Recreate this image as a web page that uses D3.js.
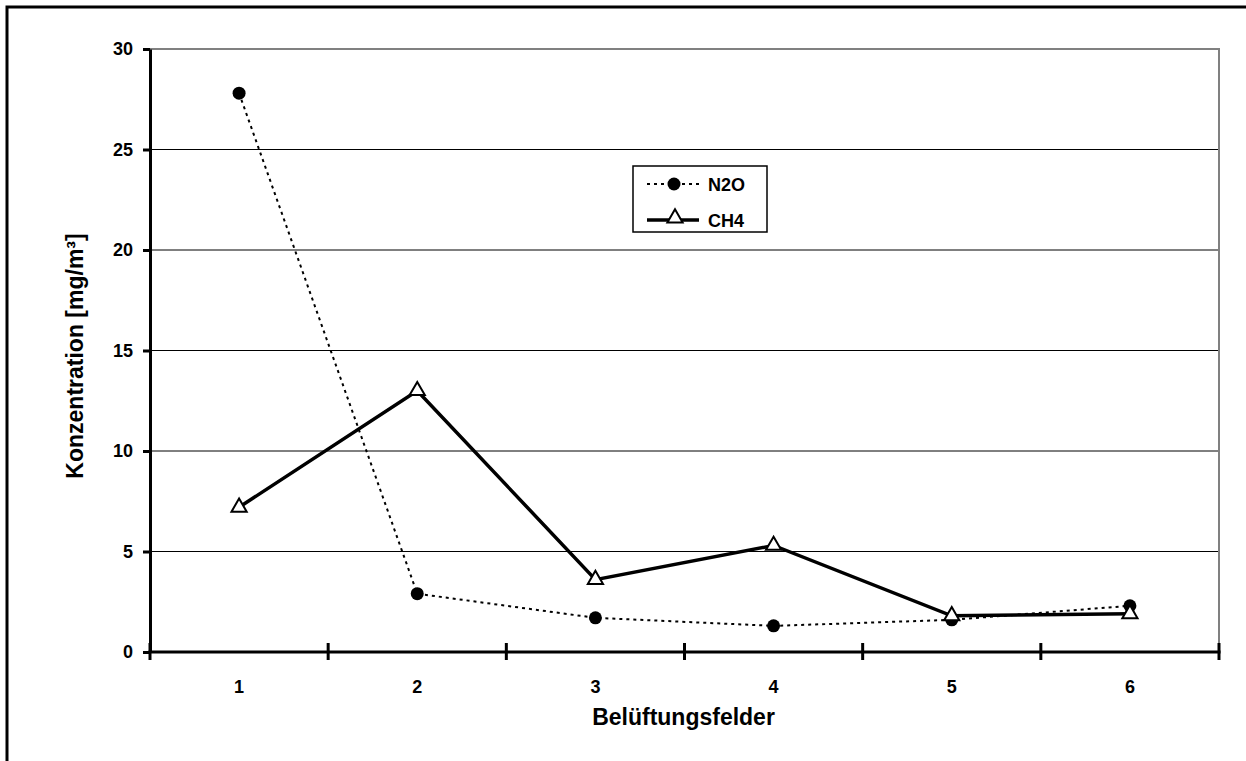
<!DOCTYPE html>
<html>
<head>
  <meta charset="utf-8">
  <title>Konzentration</title>
  <script src="https://d3js.org/d3.v7.min.js"></script>
  <style>
    body { margin: 0; background: #fff; }
    svg { font-family: "Liberation Sans", Arial, sans-serif; font-weight: bold; }
  </style>
</head>
<body>
  <svg class="chart" width="1246" height="761"></svg>
  <script>
    "use strict";

    var felder = [1, 2, 3, 4, 5, 6];
    var n2o = [27.8, 2.9, 1.7, 1.3, 1.6, 2.3];
    var ch4 = [7.2, 13.0, 3.6, 5.3, 1.8, 1.9];
    var yTicks = [0, 5, 10, 15, 20, 25, 30];
    var seriesNames = ["N2O", "CH4"];

    var margin = { top: 49, left: 150, right: 27, bottom: 109 };
    var svg = d3.select("svg.chart");
    var W = +svg.attr("width"), H = +svg.attr("height");

    var x = d3.scaleLinear()
      .domain([0.5, felder.length + 0.5])
      .range([margin.left, W - margin.right]);
    var y = d3.scaleLinear()
      .domain([0, 30])
      .range([H - margin.bottom, margin.top]);

    // outer chart border (runs off the right and bottom)
    svg.append("rect")
      .attr("x", 7).attr("y", 7)
      .attr("width", 1400).attr("height", 900)
      .attr("fill", "none").attr("stroke", "#000").attr("stroke-width", 3);

    // gridlines
    svg.append("g").selectAll("line")
      .data(yTicks.filter(function(d) { return d > 0 && d < 30; }))
      .enter().append("line")
      .attr("x1", x(0.5)).attr("x2", x(6.5))
      .attr("y1", function(d) { return y(d); })
      .attr("y2", function(d) { return y(d); })
      .attr("stroke", "#000").attr("stroke-width", 1);

    // plot area border (grey, top and right)
    svg.append("path")
      .attr("d", "M" + x(0.5) + "," + y(30) + "H" + x(6.5) + "V" + y(0))
      .attr("fill", "none").attr("stroke", "#808080").attr("stroke-width", 2);

    // y axis
    var yAxis = svg.append("g")
      .attr("transform", "translate(" + x(0.5) + ",0)")
      .call(d3.axisLeft(y).tickValues(yTicks).tickSize(7).tickSizeOuter(0).tickPadding(10));
    yAxis.select(".domain").attr("stroke", "#000").attr("stroke-width", 3);
    yAxis.selectAll(".tick line").attr("stroke", "#000").attr("stroke-width", 3);
    yAxis.selectAll(".tick text")
      .attr("fill", "#000")
      .style("font-size", "18px")
      .style("font-family", "'Liberation Sans', Arial, sans-serif")
      .style("font-weight", "bold");

    // x axis line and crossing ticks
    var xEdges = d3.range(0.5, felder.length + 1, 1);
    svg.append("line")
      .attr("x1", x(0.5) - 1.5).attr("x2", x(6.5) + 1.5)
      .attr("y1", y(0)).attr("y2", y(0))
      .attr("stroke", "#000").attr("stroke-width", 3);
    svg.append("g").selectAll("line")
      .data(xEdges)
      .enter().append("line")
      .attr("x1", function(d) { return x(d); })
      .attr("x2", function(d) { return x(d); })
      .attr("y1", y(0) - 9).attr("y2", y(0) + 8)
      .attr("stroke", "#000").attr("stroke-width", 3);
    svg.append("g").selectAll("text")
      .data(felder)
      .enter().append("text")
      .attr("x", function(d) { return x(d); })
      .attr("y", y(0) + 41)
      .attr("text-anchor", "middle")
      .style("font-size", "18px")
      .text(function(d) { return d; });

    // axis titles
    svg.append("text")
      .attr("x", (x(0.5) + x(6.5)) / 2 - 1)
      .attr("y", 725)
      .attr("text-anchor", "middle")
      .style("font-size", "23px")
      .text("Belüftungsfelder");
    svg.append("text")
      .attr("transform", "translate(83," + 356 + ") rotate(-90)")
      .attr("text-anchor", "middle")
      .style("font-size", "23px")
      .text("Konzentration [mg/m³]");

    var line = d3.line()
      .x(function(d, i) { return x(felder[i]); })
      .y(function(d) { return y(d); });

    var triangle = d3.symbol().type(d3.symbolTriangle).size(100);

    // N2O dotted with filled circles
    svg.append("path")
      .attr("d", line(n2o))
      .attr("fill", "none").attr("stroke", "#000")
      .attr("stroke-width", 2).attr("stroke-dasharray", "3,4");
    svg.append("g").selectAll("circle")
      .data(n2o)
      .enter().append("circle")
      .attr("cx", function(d, i) { return x(felder[i]); })
      .attr("cy", function(d) { return y(d); })
      .attr("r", 6.5)
      .attr("fill", "#000");

    // CH4 solid with open triangles
    svg.append("path")
      .attr("d", line(ch4))
      .attr("fill", "none").attr("stroke", "#000").attr("stroke-width", 3.5);
    svg.append("g").selectAll("path")
      .data(ch4)
      .enter().append("path")
      .attr("d", triangle)
      .attr("transform", function(d, i) {
        return "translate(" + x(felder[i]) + "," + y(d) + ")";
      })
      .attr("fill", "#fff").attr("stroke", "#000").attr("stroke-width", 2);

    // legend
    var lg = svg.append("g").attr("transform", "translate(633,166)");
    lg.append("rect")
      .attr("width", 134).attr("height", 66)
      .attr("fill", "#fff").attr("stroke", "#000").attr("stroke-width", 1.5);
    var rows = lg.selectAll("g.row")
      .data(seriesNames)
      .enter().append("g")
      .attr("class", "row")
      .attr("transform", function(d, i) { return "translate(0," + (18 + i * 36) + ")"; });
    rows.append("line")
      .attr("x1", 14).attr("x2", 66)
      .attr("stroke", "#000")
      .attr("stroke-width", function(d, i) { return i === 0 ? 2 : 3.5; })
      .attr("stroke-dasharray", function(d, i) { return i === 0 ? "3,4" : null; });
    rows.filter(function(d, i) { return i === 0; })
      .append("circle").attr("cx", 41).attr("r", 6.5).attr("fill", "#000");
    rows.filter(function(d, i) { return i === 1; })
      .append("path").attr("d", triangle)
      .attr("transform", "translate(42,-2)")
      .attr("fill", "#fff").attr("stroke", "#000").attr("stroke-width", 2);
    rows.append("text")
      .attr("x", 75).attr("y", 6.5)
      .style("font-size", "18px")
      .text(function(d) { return d; });
  </script>
</body>
</html>
